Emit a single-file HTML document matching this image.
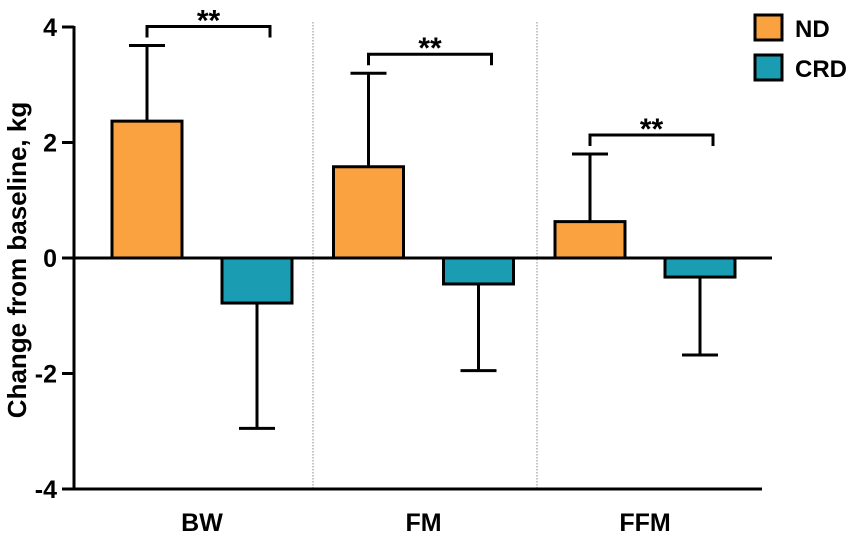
<!DOCTYPE html>
<html><head><meta charset="utf-8"><style>
body{margin:0;background:#fff}
svg text{font-family:"Liberation Sans",Arial,sans-serif;font-weight:bold;fill:#000}
</style></head><body>
<svg width="851" height="534" viewBox="0 0 851 534">
<g id="plot"></g>
</svg>
<script>
const groups=["BW","FM","FFM"];
const ndValues=[2.37,1.58,0.63];
const ndErrors=[1.31,1.62,1.17];
const crdValues=[-0.78,-0.45,-0.33];
const crdErrors=[2.17,1.5,1.35];
const yTicks=[-4,-2,0,2,4];
const seriesNames=["ND","CRD"];

const NS="http://www.w3.org/2000/svg";
const g=document.getElementById('plot');
const y0=258,unit=57.75,axisX=74;
const y=v=>y0-v*unit;
const groupX=i=>112+i*221.5;
const barW=70;
const colors=["#F9A23F","#1A9DB2"];
function el(t,a,p){const e=document.createElementNS(NS,t);for(const k in a)e.setAttribute(k,a[k]);(p||g).appendChild(e);return e;}

[313,537].forEach((sx,i)=>{const l=el('line',{x1:sx,x2:sx,y1:22,y2:490,stroke:'#888','stroke-width':1,'stroke-dasharray':'1.5,1.5'});

});

const ya=el('line',{x1:axisX,x2:axisX,y1:y(4)-1,y2:y(-4)+1,stroke:'#000','stroke-width':3});


yTicks.forEach(v=>{
 const t=el('line',{x1:axisX-12,x2:axisX,y1:y(v),y2:y(v),stroke:'#000','stroke-width':3});
 
 
 const tx=el('text',{x:axisX-17,y:y(v)+9,'text-anchor':'end','font-size':25});
 tx.textContent=v;
 
 
});
const yt=el('text',{x:0,y:0,'text-anchor':'middle','font-size':26,transform:'translate(26,260) rotate(-90)'});
yt.textContent='Change from baseline, kg';



const xa=el('line',{x1:axisX,x2:762,y1:y(-4),y2:y(-4),stroke:'#000','stroke-width':3});



function drawBar(x,v,e,c,name){
 const yt=y(v),yb=y(0);
 const cx=x+barW/2;
 const ee=v>=0?y(v+e):y(v-e);
 const eb=el('line',{x1:cx,x2:cx,y1:yt,y2:ee,stroke:'#000','stroke-width':3});
 
 
 const cap=el('line',{x1:cx-18,x2:cx+18,y1:ee,y2:ee,stroke:'#000','stroke-width':3});
 
 
 const r=el('rect',{x:x,y:Math.min(yt,yb),width:barW,height:Math.abs(yb-yt),fill:c,stroke:'#000','stroke-width':3});
 
 
}
groups.forEach((gname,i)=>{
 const gx=groupX(i);
 drawBar(gx,ndValues[i],ndErrors[i],colors[0],'bar-nd-'+gname.toLowerCase());
 drawBar(gx+110,crdValues[i],crdErrors[i],colors[1],'bar-crd-'+gname.toLowerCase());
 const lab=el('text',{x:gx+90,y:531,'text-anchor':'middle','font-size':25});
 lab.textContent=gname;
 
 
 const top=Math.max(ndValues[i]+ndErrors[i],0);
 const by=y(top)-19;
 const x1=gx+35,x2=gx+145+13;
 const br=el('polyline',{points:`${x1},${by+11} ${x1},${by} ${x2},${by} ${x2},${by+11}`,fill:'none',stroke:'#000','stroke-width':3});
 
 
 const st=el('text',{x:(x1+x2)/2,y:by+4,'text-anchor':'middle','font-size':30});
 st.textContent='**';
 
 
});
const zl=el('line',{x1:axisX,x2:772,y1:y0,y2:y0,stroke:'#000','stroke-width':3});



seriesNames.forEach((n,i)=>{
 const ly=15+i*40;
 const s=el('rect',{x:755,y:ly,width:27,height:25,fill:colors[i],stroke:'#000','stroke-width':3});
 
 
 const t=el('text',{x:795,y:ly+22,'font-size':24});
 t.textContent=n;
 
 
});
</script>
</body></html>
